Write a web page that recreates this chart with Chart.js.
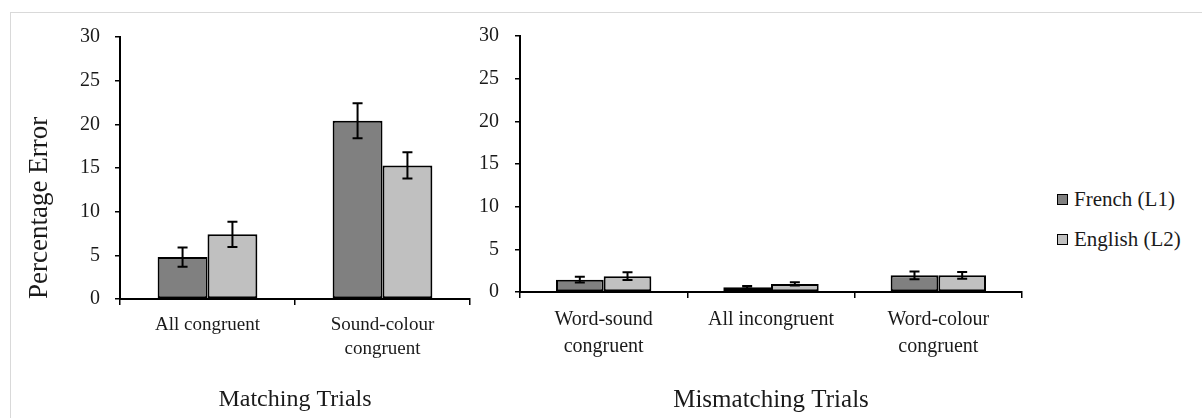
<!DOCTYPE html>
<html>
<head>
<meta charset="utf-8">
<title>Percentage Error</title>
<script src="https://cdn.jsdelivr.net/npm/chart.js@4.4.0/dist/chart.umd.min.js"></script>
<style>
	body { margin: 0; background: #fff; }
	#wrap { position: relative; width: 1202px; height: 418px; overflow: hidden; font-family: 'Liberation Serif', 'Times New Roman', serif; }
	#frame { position: absolute; left: 10px; top: 12px; width: 1300px; height: 500px; border: 1px solid #d9d9d9; }
	canvas { position: absolute; top: 0; }
	#chart-match { left: 0; }
	#chart-mismatch { left: 470px; }
	#legend { position: absolute; left: 1057px; top: 179px; }
	.legend-item { display: flex; align-items: center; height: 40px; font-size: 21px; color: #1a1a1a; }
	.legend-box { width: 9px; height: 9px; border: 1.5px solid #000; margin-right: 6px; }
</style>
</head>
<body>
<div id="wrap">
	<div id="frame"></div>
	<canvas id="chart-match" width="480" height="418"></canvas>
	<canvas id="chart-mismatch" width="570" height="418"></canvas>
	<div id="legend"></div>
</div>
<script>
// :: 1.0 Data
var seriesNames = ['French (L1)', 'English (L2)'];
var seriesColors = ['#808080', '#c0c0c0'];

var matchLabels = ['All congruent', ['Sound-colour', 'congruent']];
var frenchMatch = [4.8, 20.4];
var englishMatch = [7.4, 15.3];
var frenchMatchErr = [1.1, 2.0];
var englishMatchErr = [1.45, 1.5];

var mismatchLabels = [['Word-sound', 'congruent'], 'All incongruent', ['Word-colour', 'congruent']];
var frenchMismatch = [1.45, 0.55, 1.95];
var englishMismatch = [1.85, 0.95, 1.95];
var frenchMismatchErr = [0.35, 0.15, 0.45];
var englishMismatchErr = [0.45, 0.2, 0.4];

var yTicks = [0, 5, 10, 15, 20, 25, 30];

var serif = "'Liberation Serif', 'Times New Roman', serif";
var textColor = '#1a1a1a';

// :: 2.0 Error bars
var errorBars = {
	id: 'errorBars',
	afterDatasetsDraw: function (chart) {
		var ctx = chart.ctx;
		var y = chart.scales.y;
		ctx.save();
		ctx.strokeStyle = '#000';
		ctx.lineWidth = 2;
		chart.data.datasets.forEach(function (ds, i) {
			var meta = chart.getDatasetMeta(i);
			meta.data.forEach(function (bar, j) {
				var v = ds.data[j], e = ds.errors[j];
				var top = y.getPixelForValue(v + e);
				var bottom = y.getPixelForValue(v - e);
				var x = bar.x;
				ctx.beginPath();
				ctx.moveTo(x, top); ctx.lineTo(x, bottom);
				ctx.moveTo(x - 5, top); ctx.lineTo(x + 5, top);
				ctx.moveTo(x - 5, bottom); ctx.lineTo(x + 5, bottom);
				ctx.stroke();
			});
		});
		ctx.restore();
	}
};

// :: 3.0 Charts
function makeChart(id, labels, values, errors, o) {
	var datasets = values.map(function (data, i) {
		return {
			label: seriesNames[i],
			data: data,
			errors: errors[i],
			backgroundColor: seriesColors[i],
			borderColor: '#000',
			borderWidth: 2,
			borderSkipped: false,
			categoryPercentage: 0.57,
			barPercentage: 1
		};
	});

	return new Chart(document.getElementById(id), {
		type: 'bar',
		data: { labels: labels, datasets: datasets },
		plugins: [errorBars],
		options: {
			responsive: false,
			animation: false,
			devicePixelRatio: 1,
			layout: { padding: { top: o.top, right: o.right, left: 0, bottom: 0 } },
			plugins: { legend: { display: false }, tooltip: { enabled: false } },
			scales: {
				x: {
					grid: { drawOnChartArea: false, drawTicks: true, tickLength: 6, color: '#000', lineWidth: 1.5 },
					border: { display: true, color: '#000', width: 2 },
					ticks: {
						autoSkip: false, maxRotation: 0, padding: 8, color: textColor,
						font: { family: serif, size: o.labelSize, lineHeight: o.labelLine }
					},
					title: {
						display: true, text: o.title, color: textColor,
						font: { family: serif, size: o.titleSize },
						padding: { top: 0, bottom: o.titlePad }
					},
					afterFit: function (scale) { scale.height = o.xHeight; }
				},
				y: {
					min: yTicks[0],
					max: yTicks[yTicks.length - 1],
					grid: { drawOnChartArea: false, drawTicks: true, tickLength: 5, color: '#000', lineWidth: 1.5 },
					border: { display: true, color: '#000', width: 2 },
					ticks: {
						stepSize: yTicks[1] - yTicks[0], padding: o.yPad, color: textColor,
						font: { family: serif, size: 20 }
					},
					title: {
						display: o.yTitle, text: 'Percentage Error', align: 'start', color: textColor,
						font: { family: serif, size: 27 },
						padding: { top: 24, bottom: 0 }
					},
					afterFit: function (scale) { scale.width = o.yWidth; }
				}
			}
		}
	});
}

makeChart('chart-match', matchLabels,
	[frenchMatch, englishMatch], [frenchMatchErr, englishMatchErr],
	{ top: 37, right: 10, xHeight: 119, yWidth: 120, yPad: 15, yTitle: true,
		labelSize: 19, labelLine: 1.25, title: 'Matching Trials', titleSize: 24, titlePad: 4 });

makeChart('chart-mismatch', mismatchLabels,
	[frenchMismatch, englishMismatch], [frenchMismatchErr, englishMismatchErr],
	{ top: 36, right: 18, xHeight: 126, yWidth: 50, yPad: 16, yTitle: false,
		labelSize: 20, labelLine: 1.35, title: 'Mismatching Trials', titleSize: 25, titlePad: 3 });

// :: 4.0 Legend
var legend = document.getElementById('legend');
seriesNames.forEach(function (name, i) {
	var item = document.createElement('div');
	item.className = 'legend-item';
	var box = document.createElement('span');
	box.className = 'legend-box';
	box.style.background = seriesColors[i];
	var text = document.createElement('span');
	text.textContent = name;
	item.appendChild(box);
	item.appendChild(text);
	legend.appendChild(item);
});
</script>
</body>
</html>
